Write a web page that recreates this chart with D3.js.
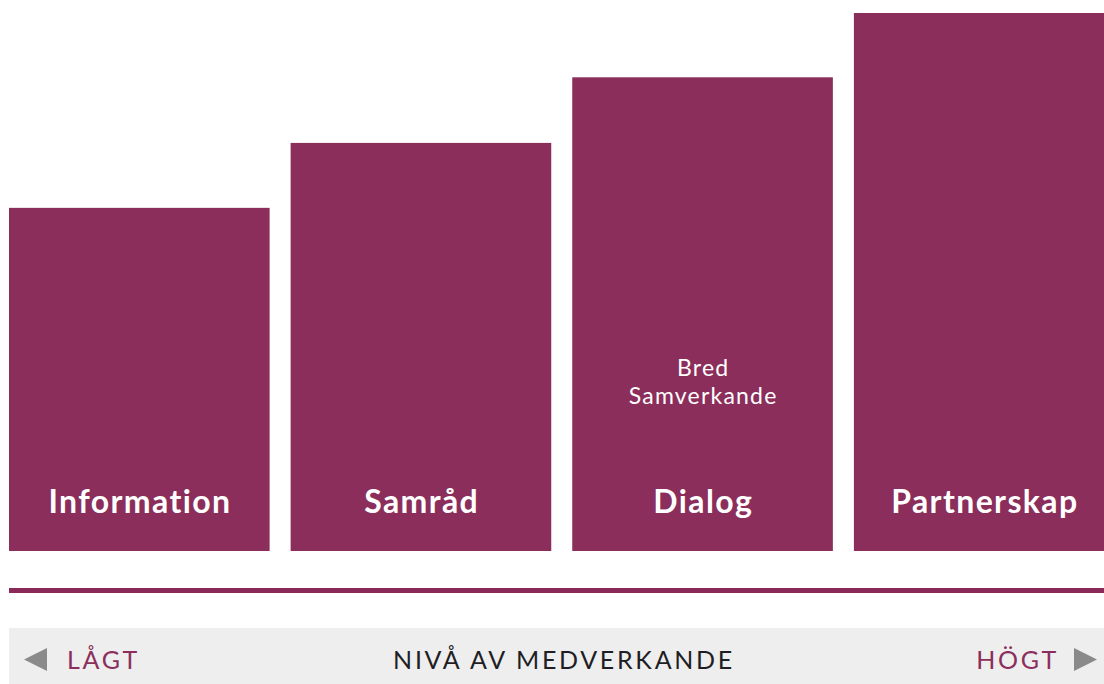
<!DOCTYPE html>
<html>
<head>
<meta charset="utf-8">
<script src="https://cdn.jsdelivr.net/npm/d3@7"></script>
<style>
  html, body { margin: 0; padding: 0; background: #fff; }
  svg { display: block; }
  text { font-variant-ligatures: none; }
</style>
</head>
<body>
<svg id="chart" width="1104" height="684"></svg>
<script>
// Data
const categories = ['Information', 'Samråd', 'Dialog', 'Partnerskap'];
const levels = [52.3, 62.2, 72.2, 82];
const notes = [[], [], ['Bred', 'Samverkande'], []];
const scaleLabels = { low: 'LÅGT', mid: 'NIVÅ AV MEDVERKANDE', high: 'HÖGT' };

const colors = {
  bar: '#8b2e5b',
  rule: '#8b2a59',
  band: '#eeeeee',
  arrow: '#8a8a8a',
  text: '#1e1e24',
  accent: '#8b2e5b'
};

const width = 1104;
const baseline = 551;
const svg = d3.select('#chart');

// Scales
const x = d3.scaleBand()
  .domain(categories)
  .range([9, 1114.5])
  .paddingInner(0.0746)
  .paddingOuter(0);

const y = d3.scaleLinear()
  .domain([0, d3.max(levels)])
  .range([baseline, 13]);

const data = categories.map((c, i) => ({ name: c, value: levels[i], note: notes[i] }));

// Bars
const bars = svg.selectAll('.bar')
  .data(data)
  .enter().append('g')
  .attr('class', 'bar');

bars.append('rect')
  .attr('x', d => x(d.name))
  .attr('y', d => y(d.value))
  .attr('width', x.bandwidth())
  .attr('height', d => baseline - y(d.value))
  .style('fill', colors.bar);

// letter-spacing adds trailing space, so nudge centres by half of it
bars.append('text')
  .attr('x', d => x(d.name) + x.bandwidth() / 2 + 0.7)
  .attr('y', 513)
  .attr('text-anchor', 'middle')
  .style('font-family', 'Lato, "Noto Sans", sans-serif')
  .style('font-weight', 700)
  .style('font-size', '32px')
  .style('letter-spacing', '1.4px')
  .style('fill', '#fff')
  .text(d => d.name);

bars.each(function(d) {
  d3.select(this).selectAll('.note')
    .data(d.note)
    .enter().append('text')
    .attr('class', 'note')
    .attr('x', x(d.name) + x.bandwidth() / 2 + 0.6)
    .attr('y', (t, j) => 376 + j * 28)
    .attr('text-anchor', 'middle')
    .style('font-family', 'Lato, "Noto Sans", sans-serif')
    .style('font-size', '23px')
    .style('letter-spacing', '1.2px')
    .style('fill', '#fff')
    .text(t => t);
});

// Rule under the bars
svg.append('rect')
  .attr('x', 9)
  .attr('y', 588)
  .attr('width', width - 9)
  .attr('height', 5)
  .style('fill', colors.rule);

// Scale band
svg.append('rect')
  .attr('x', 9)
  .attr('y', 628)
  .attr('width', width - 9)
  .attr('height', 684 - 628)
  .style('fill', colors.band);

const labelStyle = sel => sel
  .style('font-family', 'Lato, "Noto Sans", sans-serif')
  .style('font-size', '25px')
  .style('letter-spacing', '2.7px');

svg.append('path')
  .attr('d', d3.line()([[24, 659.5], [47, 648], [47, 671]]) + 'Z')
  .style('fill', colors.arrow);

svg.append('path')
  .attr('d', d3.line()([[1097, 659.5], [1074, 648], [1074, 671]]) + 'Z')
  .style('fill', colors.arrow);

svg.append('text')
  .attr('x', 67)
  .attr('y', 669)
  .call(labelStyle)
  .style('fill', colors.accent)
  .text(scaleLabels.low);

svg.append('text')
  .attr('x', 564)
  .attr('y', 669)
  .attr('text-anchor', 'middle')
  .call(labelStyle)
  .style('fill', colors.text)
  .text(scaleLabels.mid);

svg.append('text')
  .attr('x', 1059)
  .attr('y', 669)
  .attr('text-anchor', 'end')
  .call(labelStyle)
  .style('fill', colors.accent)
  .text(scaleLabels.high);
</script>
</body>
</html>
